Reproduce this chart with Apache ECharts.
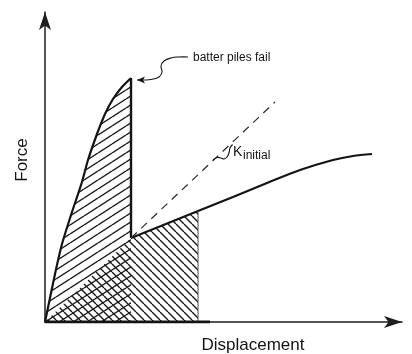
<!DOCTYPE html>
<html>
<head>
<meta charset="utf-8">
<script src="https://cdn.jsdelivr.net/npm/echarts@6/dist/echarts.min.js"></script>
<style>
  html, body { margin: 0; padding: 0; background: #fff; }
  #chart { width: 412px; height: 354px; }
</style>
</head>
<body>
<div id="chart"></div>
<script>
// Force–displacement response of a pile group (arbitrary units)
const xName = 'Displacement';
const yName = 'Force';

// system with batter piles: stiff response up to failure
const steepCurve = [[0, 0], [1.0, 4.8], [1.7, 7.8], [2.7, 11.0], [3.7, 14.0], [4.3, 16.2],
                    [5.2, 18.8], [6.0, 20.8], [6.8, 22.3], [7.7, 23.5], [8.6, 24.4]];
// drop to the residual branch once the batter piles fail
const failureDrop = [[8.6, 24.4], [8.6, 8.4]];
// residual (vertical piles only) branch
const residualCurve = [[8.6, 8.4], [15.3, 11.1], [18.8, 12.5], [22.2, 13.9], [25.5, 15.2],
                       [28.8, 16.2], [30.8, 16.6], [32.7, 16.8]];
// initial stiffness of the residual system, continued past failure
const initialStiffness = [[8.6, 8.4], [23.0, 22.0]];
// energy region under the residual branch
const residualArea = [[0, 0], [8.6, 8.4], [15.3, 11.1], [15.3, 0]];
const residualEdge = [[15.3, 0], [15.3, 11.1]];
const baseSegment = [[0, 0], [16.5, 0]];

// annotations
const failLabel = 'batter piles fail';
const failLabelAt = [14.8, 26.4];
const failLeader = [[14.3, 26.5], [13.4, 26.5], [12.6, 26.4], [11.9, 26.1], [11.6, 25.6],
                    [11.7, 25.0], [11.4, 24.5], [10.6, 24.25], [9.2, 24.2]];
const kLabel = 'K';
const kSub = 'initial';
const kLabelAt = [18.8, 17.0];
const kSubAt = [19.8, 16.6];
const kLeader = [[16.8, 16.2], [17.2, 16.45], [17.6, 16.4], [17.9, 16.3], [18.2, 16.5],
                 [18.4, 16.9], [18.5, 17.4], [18.75, 17.75]];

const INK = '#141414';
const FONT = '"Liberation Sans", Arial, sans-serif';

// repeating hatch tile; '/' rises to the right, '\' falls to the right
function hatch(w, h, dir, lw) {
  const c = document.createElement('canvas');
  c.width = w; c.height = h;
  const g = c.getContext('2d');
  g.strokeStyle = '#1c1c1c';
  g.lineWidth = lw;
  for (let k = -1; k <= 1; k++) {
    g.beginPath();
    if (dir === '/') { g.moveTo(0, h + k * h); g.lineTo(w, k * h); }
    else { g.moveTo(0, k * h); g.lineTo(w, h + k * h); }
    g.stroke();
  }
  return c;
}
const forwardHatch = hatch(14, 9, '/', 1.4);
const backHatch = hatch(8, 8, '\\', 1.4);

function areaSeries(points, tile) {
  return {
    type: 'custom', silent: true, data: [0], z: 1,
    renderItem: (params, api) => ({
      type: 'polygon',
      shape: { points: points.map(p => api.coord(p)) },
      style: { fill: { image: tile, repeat: 'repeat' }, stroke: null }
    })
  };
}

function lineSeries(data, style, smooth) {
  return {
    type: 'line', data, smooth: smooth || false, showSymbol: false, silent: true, z: 3,
    lineStyle: Object.assign({ color: INK, width: 2.2 }, style)
  };
}

const chart = echarts.init(document.getElementById('chart'), null, { renderer: 'canvas' });

chart.setOption({
  backgroundColor: '#ffffff',
  animation: false,
  grid: { left: 45, right: 10, top: 12, bottom: 32, outerBoundsMode: 'none', containLabel: false },
  xAxis: {
    type: 'value', min: 0, max: 35.7,
    name: xName, nameLocation: 'middle', nameGap: 15,
    nameTextStyle: { color: INK, fontSize: 17, fontFamily: FONT, padding: [0, 0, 0, 59] },
    axisLine: { show: true, symbol: ['none', 'arrow'], symbolSize: [9, 18],
                lineStyle: { color: '#1e1e1e', width: 1.5 } },
    axisTick: { show: false }, axisLabel: { show: false }, splitLine: { show: false }
  },
  yAxis: {
    type: 'value', min: 0, max: 31.0,
    name: yName, nameLocation: 'middle', nameGap: 14, nameRotate: 90,
    nameTextStyle: { color: INK, fontSize: 17, fontFamily: FONT, padding: [0, 0, 0, 14] },
    axisLine: { show: true, symbol: ['none', 'arrow'], symbolSize: [9, 18],
                lineStyle: { color: '#1e1e1e', width: 1.5 } },
    axisTick: { show: false }, axisLabel: { show: false }, splitLine: { show: false }
  },
  series: [
    areaSeries(steepCurve.concat([[8.6, 0]]), forwardHatch),
    areaSeries(residualArea, backHatch),
    lineSeries(steepCurve, { width: 2.2 }, 0.2),
    lineSeries(failureDrop, { width: 2.4 }),
    lineSeries(residualCurve, { width: 2.2 }, 0.3),
    lineSeries(initialStiffness, { width: 1.2, type: [8, 6], color: '#2a2a2a' }),
    lineSeries(residualEdge, { width: 1, color: '#555' }),
    lineSeries(baseSegment, { width: 3 }),
    {
      type: 'custom', silent: true, data: [0], z: 4,
      renderItem: (params, api) => {
        const lead = failLeader.map(p => api.coord(p));
        const tip = lead[lead.length - 1];
        const kl = kLeader.map(p => api.coord(p));
        const fl = api.coord(failLabelAt);
        const ka = api.coord(kLabelAt);
        const ks = api.coord(kSubAt);
        return {
          type: 'group',
          children: [
            { type: 'polyline', shape: { points: lead, smooth: 0.4 },
              style: { stroke: INK, lineWidth: 1.1, fill: null } },
            { type: 'polygon',
              shape: { points: [tip, [tip[0] + 8, tip[1] - 3.5], [tip[0] + 6, tip[1]], [tip[0] + 8, tip[1] + 3.5]] },
              style: { fill: INK } },
            { type: 'polyline', shape: { points: kl, smooth: 0.4 },
              style: { stroke: INK, lineWidth: 1.1, fill: null } },
            { type: 'text', x: fl[0], y: fl[1],
              style: { text: failLabel, fill: INK, font: '12px ' + FONT,
                       align: 'left', verticalAlign: 'middle' } },
            { type: 'text', x: ka[0], y: ka[1],
              style: { text: kLabel, fill: INK, font: '14px ' + FONT,
                       align: 'left', verticalAlign: 'middle' } },
            { type: 'text', x: ks[0], y: ks[1],
              style: { text: kSub, fill: INK, font: '12px ' + FONT,
                       align: 'left', verticalAlign: 'middle' } }
          ]
        };
      }
    }
  ]
});
</script>
</body>
</html>
